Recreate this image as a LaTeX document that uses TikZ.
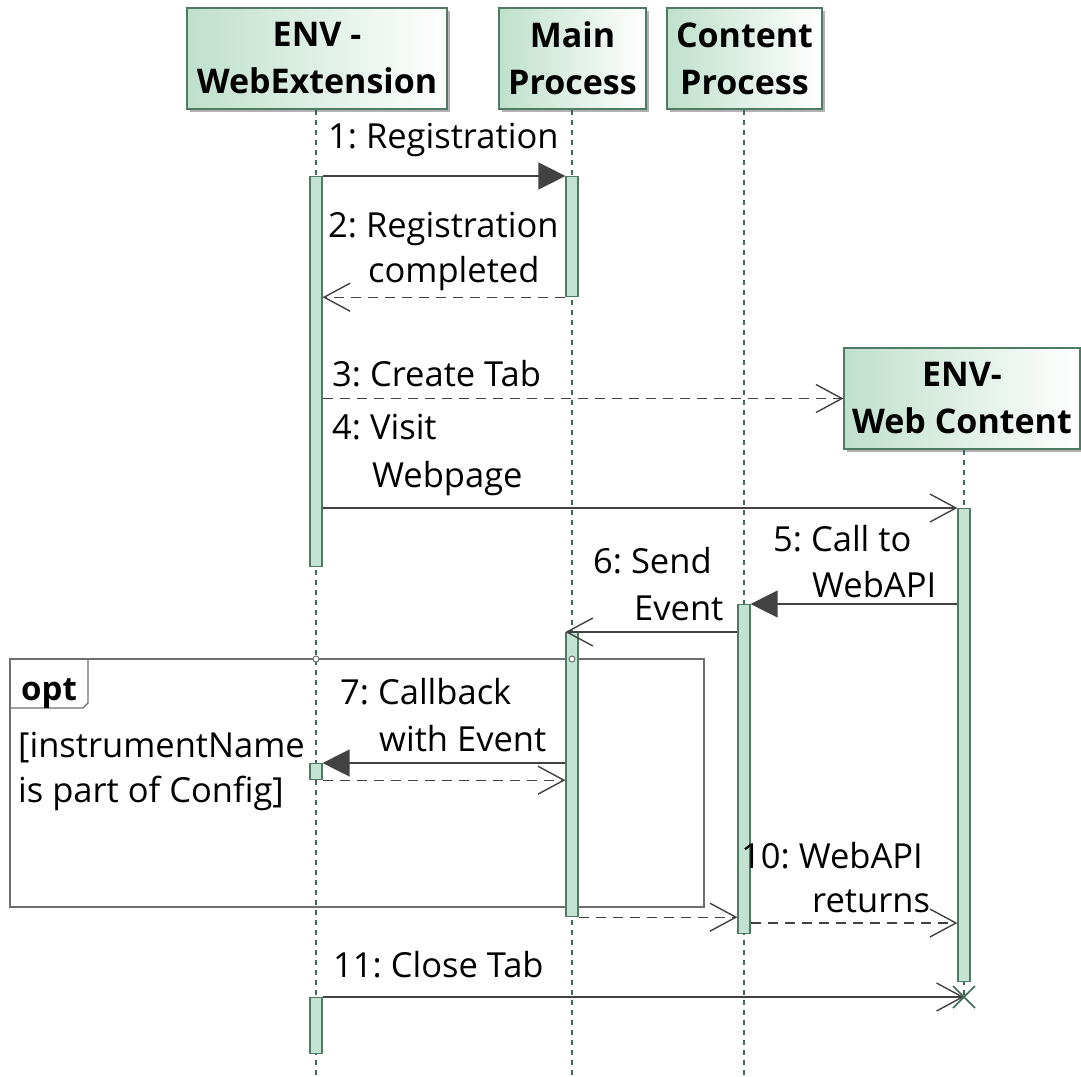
\documentclass[tikz,border=0pt]{standalone}
\usepackage{fontspec}
\setmainfont{Open Sans}
\usetikzlibrary{arrows.meta,shadows,calc}
\definecolor{boxg}{HTML}{BFE0CC}
\definecolor{edgeg}{HTML}{4F7A63}
\definecolor{lifeg}{HTML}{3E6B54}
\definecolor{actg}{HTML}{C3E2D2}
\definecolor{msgc}{HTML}{424242}
\definecolor{framec}{HTML}{6E6E6E}
\frenchspacing
\begin{document}
\begin{tikzpicture}[x=1pt,y=-1pt,
  part/.style={draw=edgeg,line width=1.2pt,left color=boxg,right color=white,
    drop shadow={shadow xshift=3pt,shadow yshift=-3pt,fill=black!30,opacity=1},
    align=center,inner sep=0pt,font=\fontsize{34}{47}\selectfont\bfseries},
  lifeline/.style={draw=lifeg,line width=1.1pt,dash pattern=on 5pt off 5pt},
  act/.style={draw=edgeg,line width=1.2pt,fill=actg,minimum width=12pt,inner sep=0pt,anchor=north},
  msgline/.style={draw=msgc,line width=1.4pt},
  syncarr/.style={msgline,-{Triangle[length=27pt,width=27pt,fill=msgc]}},
  openarr/.style={msgline,-{Straight Barb[length=26pt,width=28pt]}},
  dashedmsg/.style={dash pattern=on 10pt off 7pt},
  lbl/.style={inner sep=0pt,anchor=base west,font=\fontsize{34.5}{46}\selectfont},
  framel/.style={draw=framec,line width=1.3pt}
]
\useasboundingbox (0,0) rectangle (1081,1076);

% participants
\node[part,minimum width=260pt,minimum height=101pt] (pwe) at (317,58.5) {ENV -\\WebExtension};
\node[part,minimum width=147pt,minimum height=101pt] (pmp) at (572.5,58.5) {Main\\Process};
\node[part,minimum width=155pt,minimum height=101pt] (pcp) at (744.5,58.5) {Content\\Process};
\node[part,minimum width=236pt,minimum height=101pt] (pwc) at (962,398.5) {ENV-\\Web Content};

% lifeline ends
\coordinate (lwe) at (316,1076);
\coordinate (lmp) at (572,1076);
\coordinate (lcp) at (744,1076);
\coordinate (kill) at (964,997);

\draw[lifeline] (pwe.south -| lwe) -- (lwe);
\draw[lifeline] (pmp.south -| lmp) -- (lmp);
\draw[lifeline] (pcp.south -| lcp) -- (lcp);
\draw[lifeline] (pwc.south -| kill) -- (kill);

% opt frame
\draw[framel] (10,659) rectangle (704,907);
\draw[framel] (10,708) -- (83,708) -- (88,703) -- (88,659);
\node[inner sep=0pt,anchor=base west,font=\fontsize{33}{40}\selectfont\bfseries] (optl) at (21,700) {opt};
\node[lbl] (g1) at (18,757) {[instrumentName};
\node[lbl] (g2) at (18,802) {is part of Config]};

% activations
\node[act,minimum height=390pt] (a1) at (316,176) {};
\node[act,minimum height=120pt] (a2) at (572,176) {};
\node[act,minimum height=473pt] (a3) at (964,508) {};
\node[act,minimum height=329pt] (a4) at (744,604) {};
\node[act,minimum height=284pt] (a5) at (572,632) {};
\node[act,minimum height=16pt] (a6) at (316,763) {};
\node[act,minimum height=56pt] (a7) at (316,997) {};

\filldraw[draw=framec,fill=white,line width=1pt] (316,659) circle (3pt) (572,659) circle (3pt);

% messages
\coordinate (y10) at (0,923);
\draw[syncarr] (a1.north east) -- (a2.north west);
\draw[openarr,dashedmsg] (a2.south west) -- (a1.east |- a2.south);
\draw[openarr,dashedmsg] (a1.east |- pwc.west) -- (pwc.west);
\draw[openarr] (a1.east |- a3.north) -- (a3.north west);
\draw[syncarr] (a3.west |- a4.north) -- (a4.north east);
\draw[openarr] (a4.west |- a5.north) -- (a5.north west);
\draw[syncarr] (a5.west |- a6.north) -- (a6.north east);
\draw[openarr,dashedmsg] (a6.south east) -- (a5.west |- a6.south);
\draw[openarr,dashedmsg] (a5.south east) -- (a4.west |- a5.south);
\draw[openarr,dashedmsg] (a4.east |- y10) -- (a3.west |- y10);
\draw[openarr] (a7.north east) -- (kill);
\draw[draw=lifeg,line width=1.6pt] ($(kill)+(-11,-11)$) -- ($(kill)+(11,11)$) ($(kill)+(-11,11)$) -- ($(kill)+(11,-11)$);

% labels
\node[lbl] (l1) at (328,148) {1: Registration};
\node[lbl] (l2a) at (328,237) {2: Registration};
\node[lbl] (l2b) at (368,282) {completed};
\node[lbl] (l3) at (332,386) {3: Create Tab};
\node[lbl] (l4a) at (332,439) {4: Visit};
\node[lbl] (l4b) at (372,487) {Webpage};
\node[lbl] (l5a) at (773,551) {5: Call to};
\node[lbl] (l5b) at (812,597) {WebAPI};
\node[lbl] (l6a) at (593,573) {6: Send};
\node[lbl] (l6b) at (634,620) {Event};
\node[lbl] (l7a) at (340,704) {7: Callback};
\node[lbl] (l7b) at (379,751) {with Event};
\node[lbl] (l10a) at (741,868) {10: WebAPI};
\node[lbl] (l10b) at (812,912) {returns};
\node[lbl] (l11) at (333,977) {11: Close Tab};
\end{tikzpicture}
\end{document}
